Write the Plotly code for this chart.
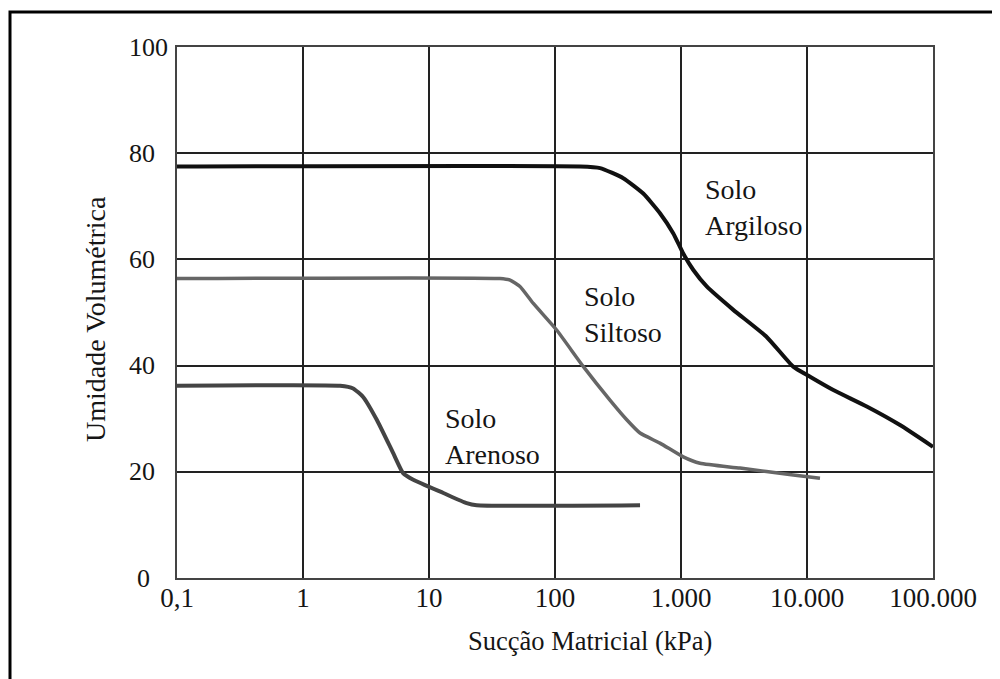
import math
import plotly.graph_objects as go

# Data (x: kPa, y: volumetric moisture %)
argiloso_x = [0.1, 158, 228, 348, 502, 681, 869, 1042, 1253, 1600, 2600, 4786, 7780, 10570, 16180, 29800, 54700, 100000]
argiloso_y = [77.5, 77.5, 77.2, 75.3, 72.4, 68.7, 64.9, 61.1, 58.0, 54.9, 50.5, 45.4, 39.8, 37.9, 35.4, 32.3, 28.8, 24.7]

siltoso_x = [0.1, 36.6, 44, 52.7, 67.3, 103, 168, 273, 371, 473, 681, 1042, 1416, 2940, 7780, 12680]
siltoso_y = [56.4, 56.4, 56.1, 54.9, 51.7, 46.7, 39.8, 33.5, 29.8, 27.3, 25.4, 22.8, 21.6, 20.7, 19.4, 18.8]

arenoso_x = [0.1, 1.97, 2.5, 3.0, 3.85, 5.2, 6.25, 7.5, 13, 19.9, 23.9, 473]
arenoso_y = [36.2, 36.2, 35.7, 34.1, 29.8, 23.5, 19.7, 18.5, 16.0, 14.1, 13.7, 13.7]

x_tickvals = [0.1, 1, 10, 100, 1000, 10000, 100000]
x_ticktext = ["0,1", "1", "10", "100", "1.000", "10.000", "100.000"]
y_tickvals = [0, 20, 40, 60, 80, 100]
y_ticktext = ["0", "20", "40", "60", "80", "100"]

labels = ["Solo<br>Argiloso", "Solo<br>Siltoso", "Solo<br>Arenoso"]
label_x = [1496, 163, 13]
label_y = [69.7, 49.7, 26.7]

FONT = "Liberation Serif"
TXT = "#151515"

fig = go.Figure()
fig.add_trace(go.Scatter(x=argiloso_x, y=argiloso_y, mode="lines",
                         line=dict(color="#111111", width=4, shape="spline", smoothing=0.5),
                         showlegend=False))
fig.add_trace(go.Scatter(x=siltoso_x, y=siltoso_y, mode="lines",
                         line=dict(color="#666666", width=3.5, shape="spline", smoothing=0.5),
                         showlegend=False))
fig.add_trace(go.Scatter(x=arenoso_x, y=arenoso_y, mode="lines",
                         line=dict(color="#444444", width=4, shape="spline", smoothing=0.5),
                         showlegend=False))

for t, xv, yv in zip(labels, label_x, label_y):
    fig.add_annotation(x=math.log10(xv), y=yv, xref="x", yref="y", text=t,
                       showarrow=False, xanchor="left", yanchor="middle", align="left",
                       font=dict(family=FONT, size=28, color=TXT))

# y tick labels (left-aligned as in the reference)
for v, t in zip(y_tickvals, y_ticktext):
    fig.add_annotation(x=(127 - 177) / 756 if t != "0" else (135 - 177) / 756, y=v,
                       xref="paper", yref="y", text=t, showarrow=False,
                       xanchor="left", yanchor="middle",
                       font=dict(family=FONT, size=26, color=TXT))

# axis titles
fig.add_annotation(x=(590 - 177) / 756, y=(578 - 641) / 531, xref="paper", yref="paper",
                   text="Sucção Matricial (kPa)", showarrow=False,
                   xanchor="center", yanchor="middle",
                   font=dict(family=FONT, size=26.5, color=TXT))
fig.add_annotation(x=(95 - 177) / 756, y=(578 - 319) / 531, xref="paper", yref="paper",
                   text="Umidade Volumétrica", showarrow=False, textangle=-90,
                   xanchor="center", yanchor="middle",
                   font=dict(family=FONT, size=28, color=TXT))

# outer border
fig.add_shape(type="rect", xref="paper", yref="paper",
              x0=(10 - 177) / 756, x1=1.3, y0=-0.3, y1=(578 - 12) / 531,
              line=dict(color="#000000", width=3))

fig.update_xaxes(type="log", range=[-1, 5], tickvals=x_tickvals, ticktext=x_ticktext,
                 showgrid=True, gridcolor="#222222", gridwidth=1.5,
                 showline=True, linecolor="#444444", linewidth=2, mirror=True,
                 ticks="", zeroline=False, ticklabelstandoff=-5,
                 tickfont=dict(family=FONT, size=27, color=TXT))
fig.update_yaxes(range=[0, 100], tickvals=y_tickvals, showticklabels=False,
                 showgrid=True, gridcolor="#222222", gridwidth=1.5,
                 showline=True, linecolor="#444444", linewidth=2, mirror=True,
                 ticks="", zeroline=False)

# page body has an 8px margin: size the figure so the plot area lands at x 177-933, y 47-578
fig.update_layout(width=992, height=671,
                  margin=dict(l=169, r=67, t=39, b=101),
                  plot_bgcolor="white", paper_bgcolor="white",
                  showlegend=False)

fig.write_html("out.html")
